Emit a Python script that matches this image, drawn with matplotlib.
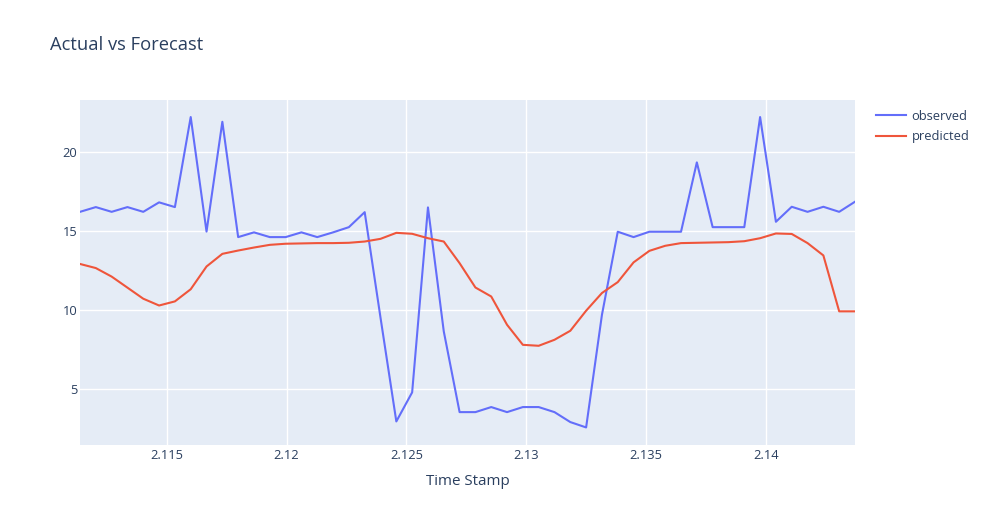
import matplotlib
matplotlib.use("Agg")
import matplotlib.pyplot as plt
from matplotlib.ticker import FixedLocator, FixedFormatter

plt.rcParams['font.family'] = ['Open Sans', 'DejaVu Sans']

time_stamp = [
    2.11138, 2.11204, 2.11270, 2.11336, 2.11402, 2.11468, 2.11534, 2.11600, 2.11666, 2.11732,
    2.11798, 2.11864, 2.11930, 2.11996, 2.12062, 2.12128, 2.12194, 2.12260, 2.12326, 2.12392,
    2.12458, 2.12524, 2.12590, 2.12656, 2.12722, 2.12788, 2.12854, 2.12920, 2.12986, 2.13052,
    2.13118, 2.13184, 2.13250, 2.13316, 2.13382, 2.13448, 2.13514, 2.13580, 2.13646, 2.13712,
    2.13778, 2.13844, 2.13910, 2.13976, 2.14042, 2.14108, 2.14174, 2.14240, 2.14306, 2.14372,
]

observed = [
    16.2, 16.5, 16.2, 16.5, 16.2, 16.8, 16.5, 22.2, 14.95, 21.9,
    14.6, 14.9, 14.6, 14.6, 14.9, 14.6, 14.9, 15.23, 16.18, 9.5,
    2.93, 4.77, 16.48, 8.63, 3.52, 3.52, 3.84, 3.52, 3.84, 3.84,
    3.52, 2.89, 2.55, 9.68, 14.94, 14.6, 14.94, 14.94, 14.94, 19.33,
    15.23, 15.23, 15.23, 22.2, 15.57, 16.52, 16.2, 16.52, 16.2, 16.84,
]

predicted = [
    12.9, 12.64, 12.1, 11.4, 10.7, 10.27, 10.53, 11.3, 12.74, 13.54,
    13.75, 13.94, 14.11, 14.18, 14.2, 14.22, 14.22, 14.24, 14.32, 14.49,
    14.87, 14.81, 14.53, 14.32, 12.95, 11.41, 10.84, 9.05, 7.78, 7.72,
    8.1, 8.67, 9.94, 11.06, 11.75, 13.0, 13.73, 14.05, 14.22, 14.24,
    14.26, 14.28, 14.34, 14.53, 14.83, 14.8, 14.22, 13.44, 9.9, 9.9,
]

x_ticks = [2.115, 2.12, 2.125, 2.13, 2.135, 2.14]
x_tick_labels = ["2.115", "2.12", "2.125", "2.13", "2.135", "2.14"]
y_ticks = [5, 10, 15, 20]
y_tick_labels = ["5", "10", "15", "20"]

W, H = 985, 525
fig = plt.figure(figsize=(W / 100, H / 100), dpi=100)
left, right, top, bottom = 80, 855, 100, 444.5
ax = fig.add_axes([left / W, 1 - bottom / H, (right - left) / W, (bottom - top) / H])

text_color = '#2a3f5f'
ax.set_facecolor('#E5ECF6')
for s in ax.spines.values():
    s.set_visible(False)

ax.plot(time_stamp, observed, color='#636efa', lw=1.5, label='observed', zorder=3)
ax.plot(time_stamp, predicted, color='#EF553B', lw=1.5, label='predicted', zorder=3)

ax.set_xlim(time_stamp[0], time_stamp[-1])
ax.set_ylim(1.47, 23.28)

ax.xaxis.set_major_locator(FixedLocator(x_ticks))
ax.xaxis.set_major_formatter(FixedFormatter(x_tick_labels))
ax.yaxis.set_major_locator(FixedLocator(y_ticks))
ax.yaxis.set_major_formatter(FixedFormatter(y_tick_labels))
ax.grid(True, color='white', lw=1, zorder=1)
ax.set_axisbelow(True)
ax.tick_params(axis='both', length=0, labelsize=9.3, labelcolor=text_color)
ax.tick_params(axis='x', pad=3)
ax.tick_params(axis='y', pad=2)

ax.set_xlabel('Time Stamp', fontsize=10.9, color=text_color, labelpad=9)

fig.text(50 / W, 1 - 44.5 / H, 'Actual vs Forecast', fontsize=13.2, color=text_color,
         ha='left', va='center')

leg = fig.legend(loc='upper left', bbox_to_anchor=(876 / W, 1 - 110 / H), frameon=False,
                 fontsize=9.3, handlelength=2.3, handletextpad=0.45, labelspacing=0.55,
                 borderaxespad=0, borderpad=0)
for t in leg.get_texts():
    t.set_color(text_color)

fig.savefig('out.png', dpi=100, facecolor='white')
